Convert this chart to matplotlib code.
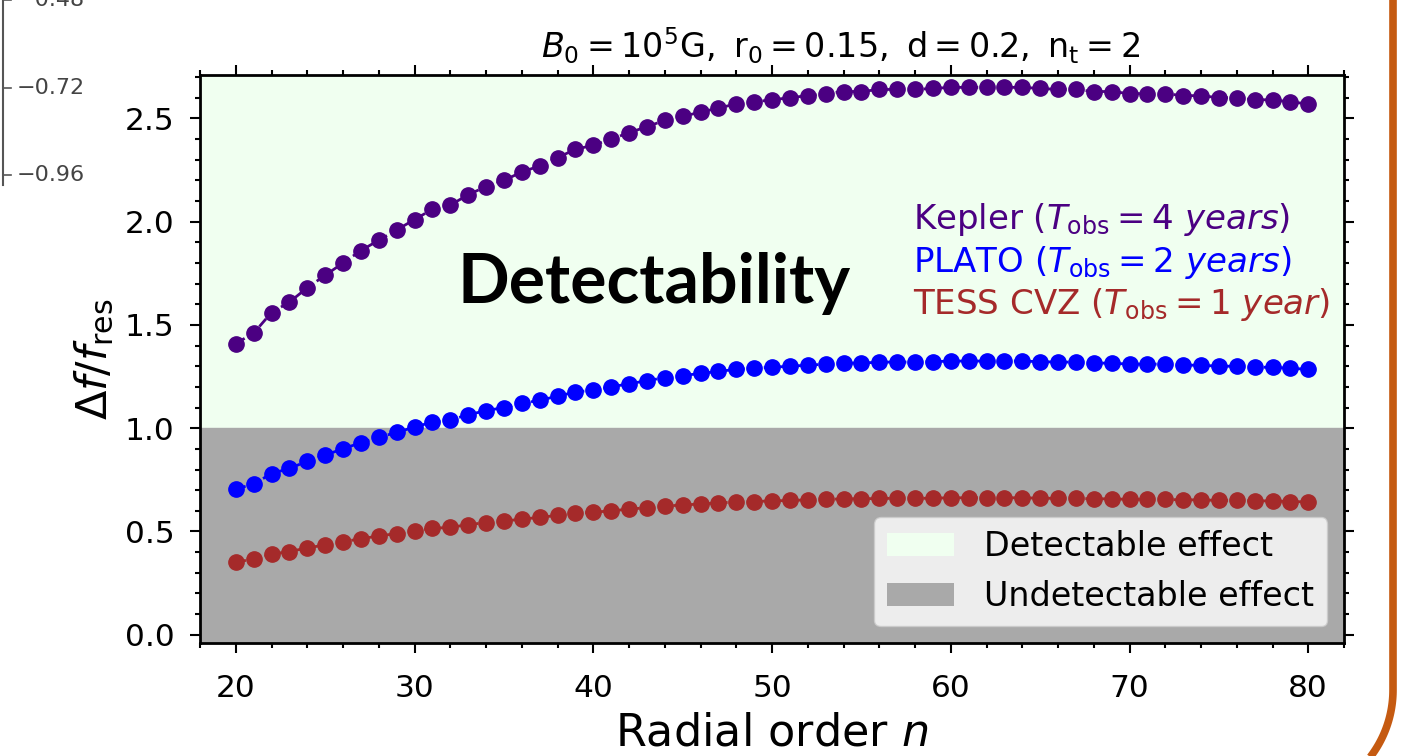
import numpy as np
import matplotlib
matplotlib.use("Agg")
import matplotlib.pyplot as plt
from matplotlib.patches import Patch
from matplotlib.ticker import MultipleLocator

n_order = list(range(20, 81))

kepler = [1.41, 1.46, 1.56, 1.61, 1.68, 1.74, 1.80, 1.86, 1.91, 1.96,
          2.01, 2.06, 2.08, 2.13, 2.17, 2.20, 2.24, 2.27, 2.31, 2.35,
          2.37, 2.40, 2.43, 2.46, 2.49, 2.51, 2.53, 2.55, 2.57, 2.58,
          2.59, 2.60, 2.61, 2.62, 2.63, 2.63, 2.64, 2.64, 2.64, 2.645,
          2.65, 2.65, 2.65, 2.65, 2.65, 2.645, 2.64, 2.64, 2.63, 2.63,
          2.62, 2.62, 2.62, 2.61, 2.61, 2.60, 2.60, 2.59, 2.59, 2.58, 2.57]

plato = [0.705, 0.73, 0.78, 0.805, 0.84, 0.87, 0.90, 0.93, 0.955, 0.98,
         1.005, 1.03, 1.04, 1.065, 1.085, 1.10, 1.12, 1.135, 1.155, 1.175,
         1.185, 1.20, 1.215, 1.23, 1.245, 1.255, 1.265, 1.275, 1.285, 1.29,
         1.295, 1.30, 1.305, 1.31, 1.315, 1.315, 1.32, 1.32, 1.32, 1.322,
         1.325, 1.325, 1.325, 1.325, 1.325, 1.322, 1.32, 1.32, 1.315, 1.315,
         1.31, 1.31, 1.31, 1.305, 1.305, 1.30, 1.30, 1.295, 1.295, 1.29, 1.285]

tess = [0.353, 0.365, 0.39, 0.403, 0.42, 0.435, 0.45, 0.465, 0.478, 0.49,
        0.503, 0.515, 0.52, 0.533, 0.543, 0.55, 0.56, 0.568, 0.578, 0.588,
        0.593, 0.60, 0.608, 0.615, 0.623, 0.628, 0.633, 0.638, 0.643, 0.645,
        0.648, 0.65, 0.653, 0.655, 0.658, 0.658, 0.66, 0.66, 0.66, 0.661,
        0.663, 0.663, 0.663, 0.663, 0.663, 0.661, 0.66, 0.66, 0.658, 0.658,
        0.655, 0.655, 0.655, 0.653, 0.653, 0.65, 0.65, 0.648, 0.648, 0.645, 0.643]

series_labels = [r"Kepler ($T_\mathrm{obs} = 4\ years$)",
                 r"PLATO ($T_\mathrm{obs} = 2\ years$)",
                 r"TESS CVZ ($T_\mathrm{obs} = 1\ year$)"]
colorbar_ticks = ["\u22120.48", "\u22120.72", "\u22120.96"]

W, H = 1413, 756
fig = plt.figure(figsize=(W / 100, H / 100), dpi=100)
fig.patch.set_facecolor("white")

ax = fig.add_axes([200 / W, (H - 643) / H, (1344 - 200) / W, (643 - 75) / H])
xlim = (18, 82)
ylim = (-0.04, 2.71)
ax.set_xlim(*xlim)
ax.set_ylim(*ylim)

ax.axhspan(1.0, ylim[1], color="honeydew", zorder=0)
ax.axhspan(ylim[0], 1.0, color="darkgray", zorder=0)

cols = ["indigo", "blue", "brown"]
for vals, c in zip([kepler, plato, tess], cols):
    ax.plot(n_order, vals, "o--", color=c, markersize=11, linewidth=2, zorder=3)

ax.set_title(r"$B_0 = 10^5\mathrm{G},\ \mathrm{r_0} = 0.15,\ \mathrm{d} = 0.2,\ \mathrm{n_t} = 2$",
             fontsize=24, pad=12, x=(841 - 200) / (1344 - 200))
ax.set_xlabel(r"Radial order $n$", fontsize=32, labelpad=6)
ax.set_ylabel(r"$\Delta f/f_\mathrm{res}$", fontsize=31, labelpad=6)

ax.xaxis.set_major_locator(MultipleLocator(10))
ax.xaxis.set_minor_locator(MultipleLocator(2))
ax.yaxis.set_major_locator(MultipleLocator(0.5))
ax.yaxis.set_minor_locator(MultipleLocator(0.1))
ax.tick_params(which="both", direction="out", top=True, right=True, width=1.5)
ax.tick_params(which="major", length=7.5, labelsize=22.5)
ax.tick_params(axis="x", which="major", pad=15)
ax.tick_params(axis="y", which="major", pad=11)
ax.tick_params(which="minor", length=3.5)
for s in ax.spines.values():
    s.set_linewidth(2)

ys = [2.01, 1.80, 1.60]
for lab, c, y in zip(series_labels, cols, ys):
    ax.text(57.9, y, lab, color=c, fontsize=24.5, va="center", ha="left", zorder=4)

ax.text(43.4, 1.70, "Detectability", fontsize=49, fontweight="bold",
        family="Lato", ha="center", va="center", zorder=4)

handles = [Patch(facecolor="honeydew", label="Detectable effect"),
           Patch(facecolor="darkgray", label="Undetectable effect")]
ax.legend(handles=handles, loc="lower right", fontsize=24, handlelength=2.0,
          handleheight=0.7, handletextpad=0.9)

# slide decorations (overlay in pixel coords)
ov = fig.add_axes([0, 0, 1, 1], zorder=-1)
ov.set_xlim(0, W)
ov.set_ylim(H, 0)
ov.axis("off")
ov.patch.set_alpha(0)
ov.plot([3, 3], [-5, 185], color="#555555", lw=1.5)
for yy, t in zip([0, 88, 175], colorbar_ticks):
    ov.plot([3, 11], [yy, yy], color="#555555", lw=1.2)
    ov.text(17, yy, t, fontsize=16, color="#444444", va="center", ha="left")

R = 110.0
xr = 1393.0
cx, cy = xr - R, 690
theta = np.linspace(0, np.pi / 2, 80)
px = [xr, xr] + list(cx + R * np.cos(theta))
py = [-5, cy] + list(cy + R * np.sin(theta))
ov.plot(px, py, color="#C55A11", lw=5.5, solid_capstyle="butt")

fig.savefig("out.png", dpi=100)
